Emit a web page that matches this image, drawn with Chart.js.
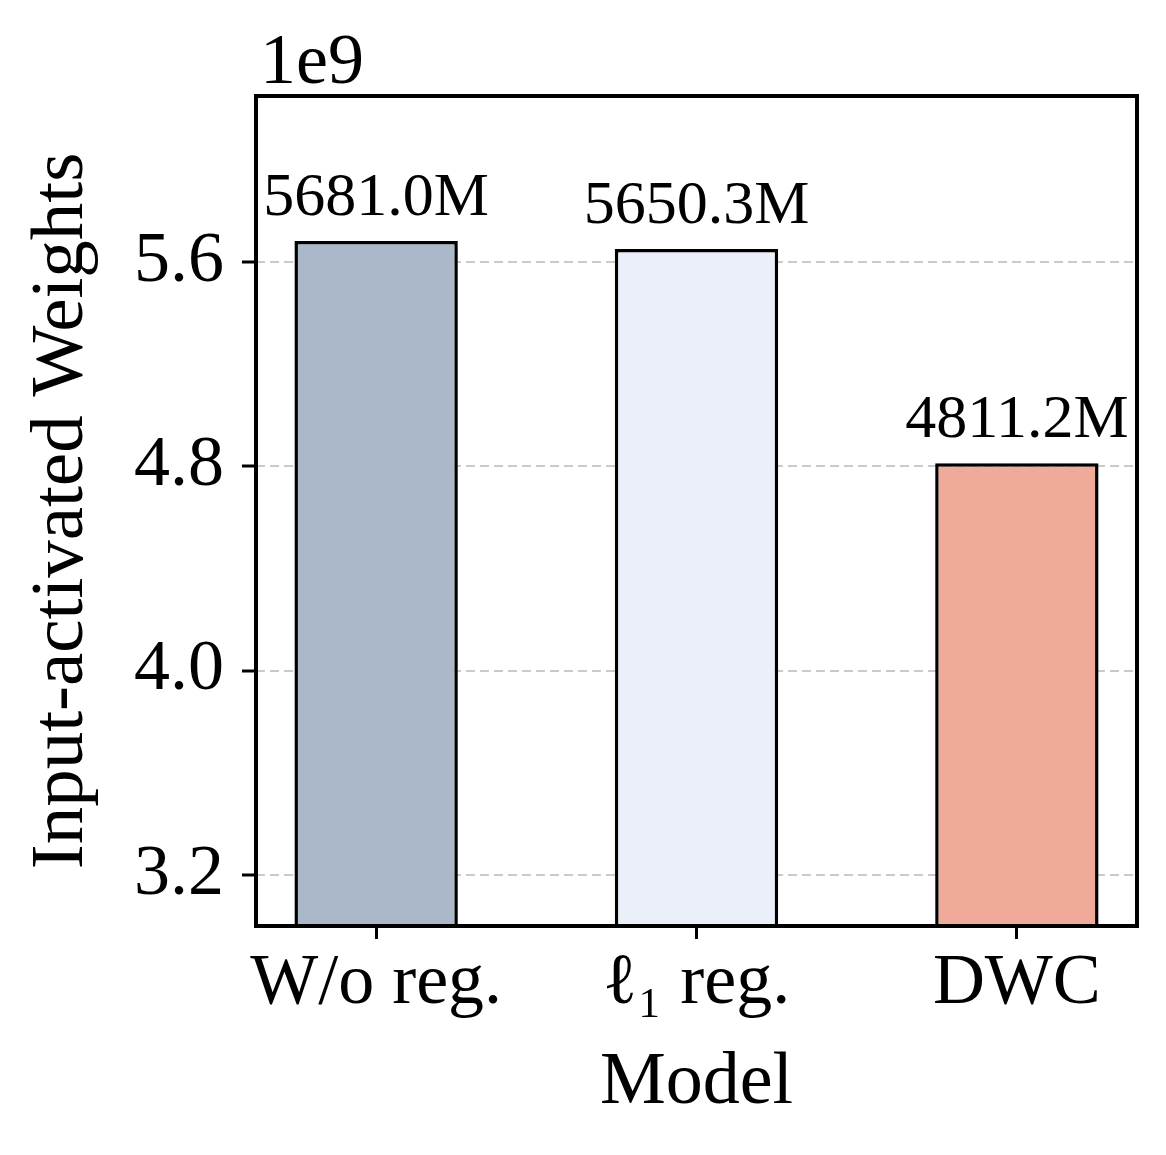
<!DOCTYPE html>
<html>
<head>
<meta charset="utf-8">
<script src="https://cdn.jsdelivr.net/npm/chart.js@4.4.1/dist/chart.umd.min.js"></script>
<style>
    html, body { margin: 0; padding: 0; background: #fff; }
    #wrap { width: 1166px; height: 1155px; }
</style>
</head>
<body>
<div id="wrap"><canvas id="chart" width="1166" height="1155"></canvas></div>
<script>
const models = ['W/o reg.', 'ℓ₁ reg.', 'DWC'];
const weights = [5681.0e6, 5650.3e6, 4811.2e6];
const yTicks = [3.2e9, 4.0e9, 4.8e9, 5.6e9];

const barColors = ['#aab8c9', '#ebeffa', '#f0aa9a'];
const SERIF = '"Liberation Serif", "Times New Roman", serif';

// frame, value labels above bars and the 1e9 offset text
const frameAndNotes = {
    id: 'frameAndNotes',
    afterDraw(chart) {
        const { ctx, chartArea: a, scales } = chart;
        ctx.save();
        ctx.strokeStyle = '#000';
        ctx.lineWidth = 4;
        ctx.strokeRect(a.left, a.top, a.right - a.left, a.bottom - a.top);

        ctx.fillStyle = '#000';
        ctx.font = '62px ' + SERIF;
        ctx.textAlign = 'center';
        ctx.textBaseline = 'alphabetic';
        weights.forEach((w, i) => {
            const px = scales.x.getPixelForValue(i);
            const py = scales.y.getPixelForValue(w);
            ctx.fillText((w / 1e6).toFixed(1) + 'M', px, py - 26);
        });

        ctx.font = '72px ' + SERIF;
        ctx.textAlign = 'left';
        ctx.fillText('1e9', a.left + 4, a.top - 13);
        ctx.restore();
    }
};

new Chart(document.getElementById('chart'), {
    type: 'bar',
    data: {
        datasets: [{
            data: models.map((m, i) => ({ x: i, y: weights[i] })),
            backgroundColor: barColors,
            borderColor: '#000',
            borderWidth: 3.5,
            borderSkipped: false,
            barPercentage: 0.51,
            categoryPercentage: 1.0
        }]
    },
    options: {
        responsive: false,
        animation: false,
        devicePixelRatio: 1,
        layout: { padding: { top: 96, right: 29, left: 0, bottom: 0 } },
        plugins: { legend: { display: false }, tooltip: { enabled: false } },
        scales: {
            x: {
                type: 'linear',
                offset: false,
                min: -0.375,
                max: 2.375,
                afterBuildTicks: (s) => { s.ticks = models.map((m, i) => ({ value: i })); },
                afterFit: (s) => { s.height = 229; },
                border: { display: false },
                grid: {
                    offset: false,
                    drawOnChartArea: false,
                    drawTicks: true,
                    tickLength: 13,
                    tickWidth: 3,
                    tickColor: '#000'
                },
                ticks: {
                    autoSkip: false,
                    maxRotation: 0,
                    padding: 2,
                    color: '#000',
                    font: { family: SERIF, size: 72 },
                    callback: (v) => models[Math.round(v)]
                },
                title: {
                    display: true,
                    text: 'Model',
                    color: '#000',
                    font: { family: SERIF, size: 74 },
                    padding: { top: 0, bottom: 27 }
                }
            },
            y: {
                z: 1,
                min: 3.0e9,
                max: 6.249e9,
                afterBuildTicks: (s) => { s.ticks = yTicks.map((v) => ({ value: v })); },
                afterFit: (s) => { s.width = 256; },
                border: { display: false, dash: [9, 5] },
                grid: {
                    color: 'rgba(150,150,150,0.5)',
                    lineWidth: 2,
                    drawTicks: true,
                    tickLength: 14,
                    tickWidth: 3,
                    tickColor: '#000',
                    tickBorderDash: []
                },
                ticks: {
                    padding: 18,
                    color: '#000',
                    font: { family: SERIF, size: 72 },
                    callback: (v) => (v / 1e9).toFixed(1)
                },
                title: {
                    display: true,
                    text: 'Input-activated Weights',
                    color: '#000',
                    font: { family: SERIF, size: 75 },
                    padding: { top: 17, bottom: 0 }
                }
            }
        }
    },
    plugins: [frameAndNotes]
});
</script>
</body>
</html>
